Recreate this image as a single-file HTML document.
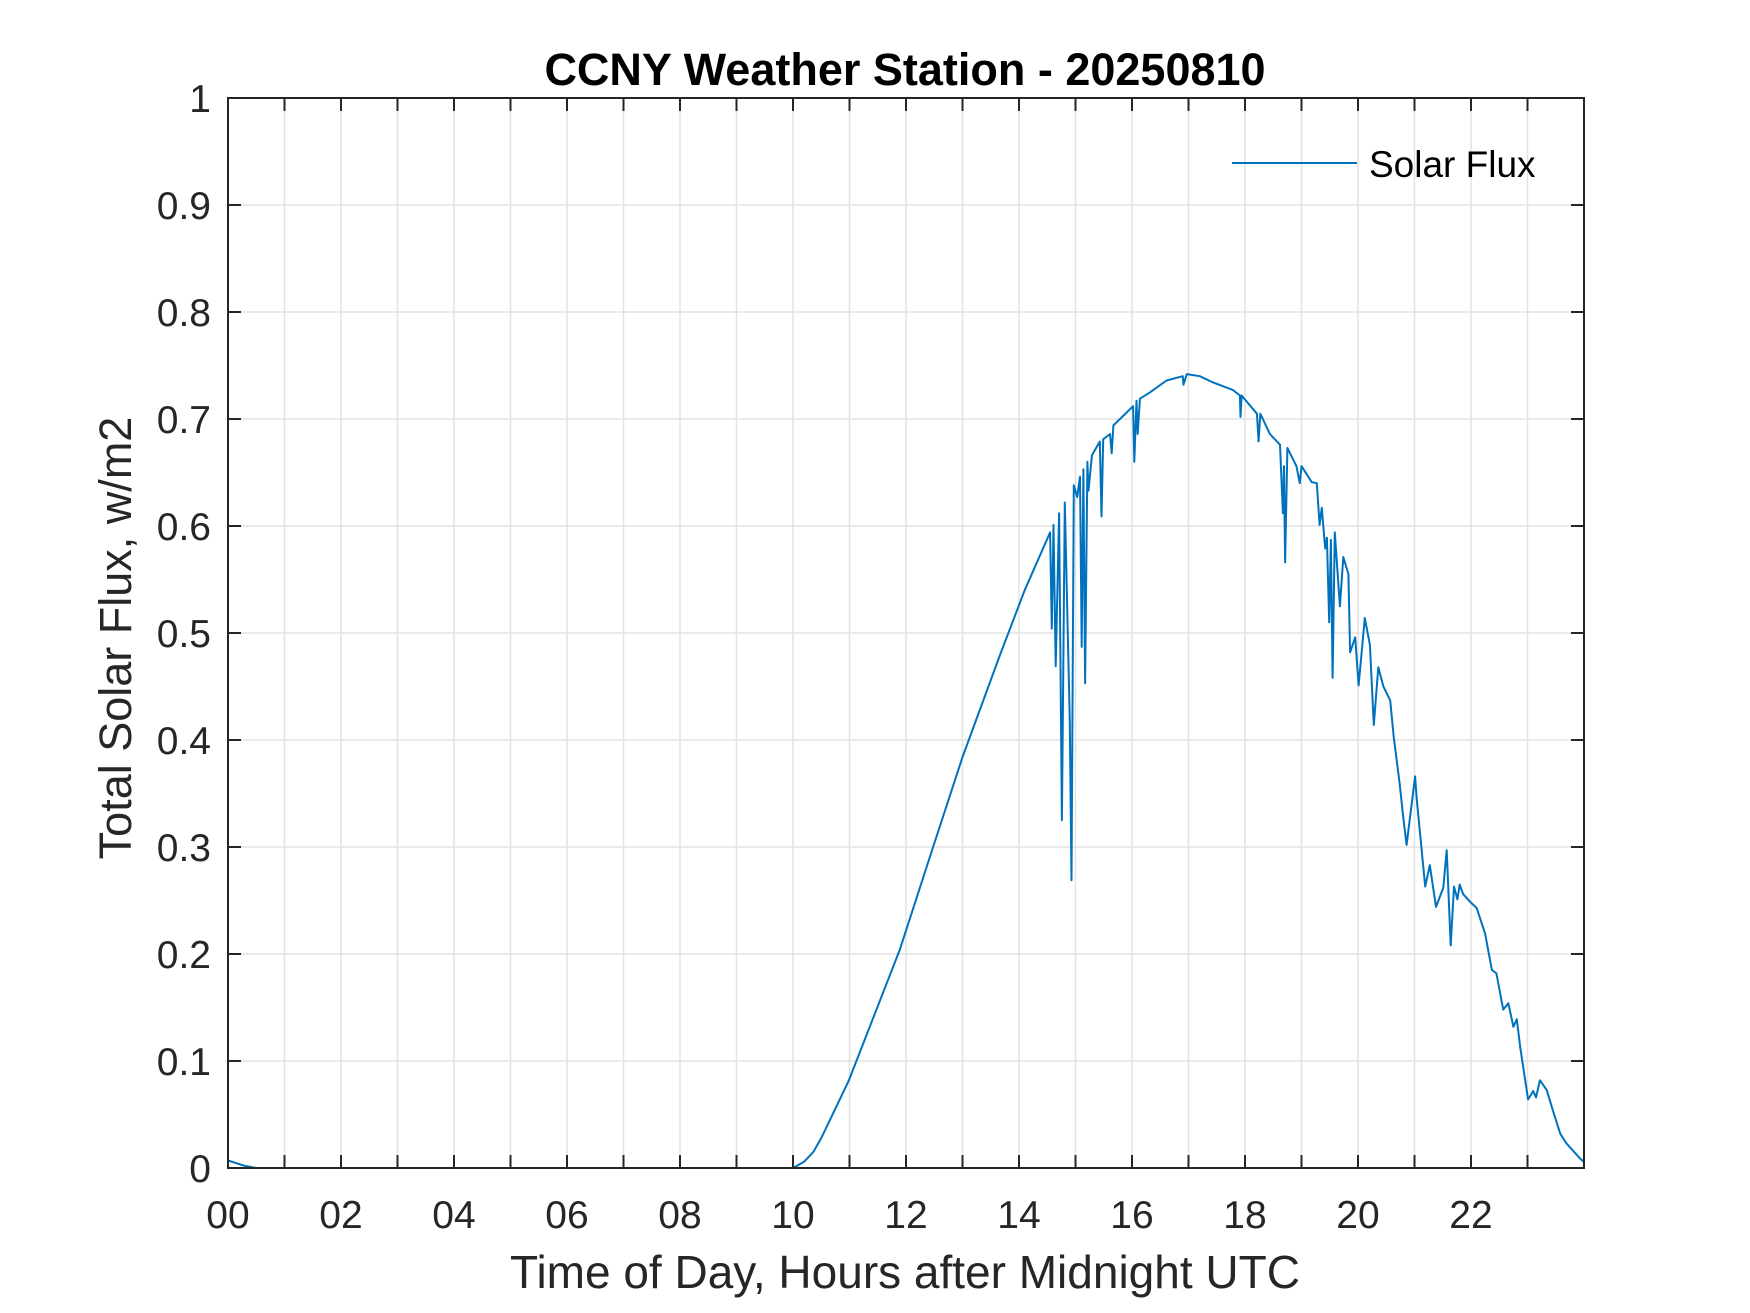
<!DOCTYPE html>
<html><head><meta charset="utf-8"><title>CCNY Weather Station - 20250810</title>
<style>html,body{margin:0;padding:0;background:#fff}svg{display:block}text{font-family:"Liberation Sans",Arial,sans-serif}</style>
</head><body>
<svg id="chart" width="1750" height="1313" viewBox="0 0 1750 1313" xmlns="http://www.w3.org/2000/svg">
<rect width="1750" height="1313" fill="#fff"/>
<g id="grid"></g><g id="series"></g><g id="axes"></g>
</svg>
<script>
const hours=[0,0.3,0.5,10.0,10.2,10.36,10.5,10.71,10.99,11.89,12.48,13.0,13.66,14.1,14.55,14.58,14.61,14.65,14.71,14.76,14.81,14.90,14.93,14.97,15.03,15.08,15.11,15.14,15.17,15.21,15.23,15.29,15.43,15.46,15.49,15.61,15.64,15.67,16.02,16.04,16.08,16.10,16.14,16.32,16.61,16.90,16.91,16.97,17.20,17.44,17.79,17.91,17.92,17.94,18.21,18.24,18.27,18.44,18.62,18.67,18.69,18.71,18.75,18.91,18.97,19.00,19.18,19.27,19.32,19.36,19.42,19.45,19.49,19.52,19.55,19.59,19.68,19.74,19.83,19.86,19.95,20.01,20.12,20.21,20.28,20.36,20.45,20.57,20.63,20.74,20.80,20.86,21.01,21.04,21.19,21.27,21.38,21.51,21.57,21.64,21.70,21.76,21.80,21.86,21.98,22.10,22.25,22.37,22.45,22.57,22.66,22.75,22.81,22.87,23.01,23.10,23.15,23.22,23.34,23.46,23.58,23.69,23.93,23.99];
const flux=[0.007,0.002,0,0,0.006,0.015,0.028,0.051,0.082,0.204,0.300,0.384,0.479,0.540,0.594,0.504,0.601,0.469,0.612,0.325,0.622,0.417,0.269,0.638,0.627,0.646,0.487,0.653,0.453,0.660,0.633,0.666,0.679,0.609,0.681,0.686,0.668,0.694,0.712,0.660,0.717,0.686,0.719,0.725,0.736,0.740,0.732,0.742,0.740,0.734,0.727,0.722,0.702,0.722,0.705,0.679,0.705,0.686,0.676,0.612,0.656,0.566,0.673,0.656,0.640,0.656,0.641,0.640,0.601,0.617,0.579,0.589,0.510,0.587,0.458,0.594,0.525,0.571,0.555,0.482,0.496,0.451,0.514,0.489,0.414,0.468,0.450,0.437,0.404,0.358,0.328,0.302,0.366,0.344,0.263,0.283,0.244,0.262,0.297,0.208,0.263,0.251,0.265,0.256,0.249,0.243,0.219,0.185,0.182,0.148,0.154,0.132,0.139,0.113,0.064,0.072,0.066,0.082,0.073,0.052,0.032,0.023,0.009,0.006];
const xTickLabels=["00","02","04","06","08","10","12","14","16","18","20","22"];
const yTickLabels=["0","0.1","0.2","0.3","0.4","0.5","0.6","0.7","0.8","0.9","1"];

const L=228,R=1584,T=98,B=1168;
const X=h=>L+(h/24)*(R-L);
const Y=v=>B-v*(B-T);
const NS="http://www.w3.org/2000/svg";
function mk(tag,attrs,parent,txt){const e=document.createElementNS(NS,tag);for(const k in attrs)e.setAttribute(k,attrs[k]);if(txt!==undefined)e.textContent=txt;parent.appendChild(e);return e;}
const grid=document.getElementById('grid'),axes=document.getElementById('axes'),series=document.getElementById('series');
for(let h=1;h<24;h++){
  const g=mk('line',{x1:X(h),x2:X(h),y1:T,y2:B,stroke:'#e3e3e3','stroke-width':1.5},grid);
  
  
}
for(let i=1;i<yTickLabels.length-1;i++){
  const g=mk('line',{x1:L,x2:R,y1:Y(i/10),y2:Y(i/10),stroke:'#e3e3e3','stroke-width':1.5},grid);
  
  
}
const pts=hours.map((h,i)=>X(h).toFixed(1)+','+Y(flux[i]).toFixed(1)).join(' ');
const line=mk('polyline',{points:pts,fill:'none',stroke:'#0072BD','stroke-width':2,'stroke-linejoin':'round'},series);


const box=mk('rect',{x:L,y:T,width:R-L,height:B-T,fill:'none',stroke:'#262626','stroke-width':2},axes);


for(let h=1;h<24;h++){
  mk('line',{x1:X(h),x2:X(h),y1:B,y2:B-13,stroke:'#262626','stroke-width':2},axes);
  mk('line',{x1:X(h),x2:X(h),y1:T,y2:T+13,stroke:'#262626','stroke-width':2},axes);
}
xTickLabels.forEach((s,i)=>{
  const t=mk('text',{x:X(i*2),y:1228,'text-anchor':'middle','font-size':39,fill:'#262626'},axes,s);
  
  
});
yTickLabels.forEach((s,i)=>{
  const v=i/10;
  mk('line',{x1:L,x2:L+13,y1:Y(v),y2:Y(v),stroke:'#262626','stroke-width':2},axes);
  mk('line',{x1:R,x2:R-13,y1:Y(v),y2:Y(v),stroke:'#262626','stroke-width':2},axes);
  const t=mk('text',{x:211,y:Y(v)+14,'text-anchor':'end','font-size':39,fill:'#262626'},axes,s);
  
  
});
</script>
<svg style="position:absolute;left:0;top:0" width="1750" height="1313">
<text x="905" y="85" text-anchor="middle" font-size="45" font-weight="bold" fill="#000">CCNY Weather Station - 20250810</text>
<text x="905" y="1288" text-anchor="middle" font-size="46" fill="#262626">Time of Day, Hours after Midnight UTC</text>
<text transform="translate(131,638) rotate(-90)" text-anchor="middle" font-size="45" fill="#262626">Total Solar Flux, w/m2</text>
<g>
<line x1="1232" x2="1357" y1="163" y2="163" stroke="#0072BD" stroke-width="2"/>
<text x="1369" y="177" font-size="37" fill="#000">Solar Flux</text>
</g>
</svg>
</body></html>
